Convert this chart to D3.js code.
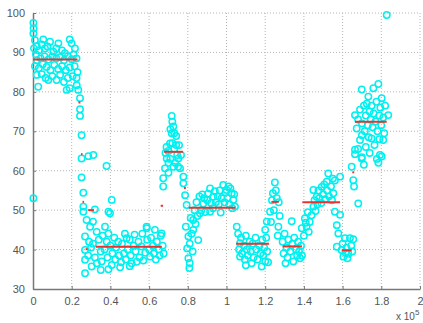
<!DOCTYPE html>
<html>
<head>
<meta charset="utf-8">
<script src="https://cdn.jsdelivr.net/npm/d3@7"></script>
<style>
  body { margin: 0; background: #fff; }
  svg { display: block; }
  text { font-family: "Liberation Sans", Arial, sans-serif; }
</style>
</head>
<body>
<div id="chart"></div>
<script>
// x values are in units of 1e5
const xTicks = [0, 0.2, 0.4, 0.6, 0.8, 1, 1.2, 1.4, 1.6, 1.8, 2];
const yTicks = [30, 40, 50, 60, 70, 80, 90, 100];

// scatter points, grouped by region [x, y]
const ptsA = [[0.002,97.5],[0.003,96.1],[0.002,94.8],[0.01,93.1],[0.005,91],[0.02,91.5],[0.015,89.5],[0.03,90.5],
  [0.053,93.3],[0.045,92],[0.062,91],[0.088,92.7],[0.075,91.5],[0.105,90.2],[0.131,92.3],[0.12,91],[0.15,90.5],
  [0.165,89.8],[0.19,93.3],[0.2,92.3],[0.217,91],[0.21,89.5],[0.225,88.5],[0.02,88],[0.04,88.5],[0.06,89],[0.08,88.2],
  [0.1,89],[0.12,88.5],[0.14,88.8],[0.16,88],[0.18,89],[0.2,88.3],[0.01,86.5],[0.03,86],[0.05,87],[0.07,86.3],
  [0.09,85.5],[0.11,86.8],[0.13,85.8],[0.15,86.5],[0.17,85.5],[0.19,86.2],[0.215,86.5],[0.23,85],[0.019,84.3],
  [0.045,84.5],[0.065,83.5],[0.079,83],[0.1,84],[0.122,83],[0.14,84.3],[0.16,82.5],[0.18,83.5],[0.205,84],
  [0.225,83.5],[0.027,81.3],[0.174,80.5],[0.19,80.9],[0.226,81.7],[0.234,80.5],[0.243,78.4],[0.243,75.6],
  [0.243,73.9],[0.251,69],[0.002,53]];
const ptsA2 = [[0.251,63.1],[0.286,63.7],[0.312,64],[0.251,58.3],[0.26,54.4],[0.26,50.9],[0.26,49.6],[0.32,50.2],
  [0.38,61.2],[0.407,52.6],[0.39,49.6],[0.398,49.2]];
const ptsB = [[0.269,43.3],[0.277,47.5],[0.31,47.1],[0.295,45.8],[0.329,44.5],[0.269,39.9],[0.269,37.4],[0.269,34],
  [0.303,35.7],[0.372,45.8],[0.381,42],[0.588,45.4],[0.484,42.9],[0.536,36.9],[0.407,36.1],[0.29,42],[0.285,38.5],
  [0.31,41.5],[0.32,38],[0.3,40.5],[0.33,36.5],[0.34,42.5],[0.35,39.5],[0.355,37],[0.36,43.5],[0.37,40],[0.385,38],
  [0.39,44],[0.4,41],[0.41,39],[0.42,43],[0.425,37.5],[0.43,40.5],[0.44,42],[0.445,38.5],[0.455,36.8],[0.46,41.5],
  [0.47,39],[0.475,44],[0.48,37.5],[0.49,40],[0.5,42.5],[0.505,38.5],[0.51,36.5],[0.52,41],[0.525,43.8],[0.53,39.5],
  [0.545,42],[0.55,38],[0.56,40.8],[0.565,44],[0.57,37.2],[0.58,39.2],[0.59,42.5],[0.6,40],[0.605,38.2],[0.61,43],
  [0.62,41],[0.625,39],[0.63,45],[0.635,37.5],[0.64,42],[0.65,40],[0.655,38.5],[0.66,43.5],[0.665,44.1],[0.67,41],
  [0.675,39],[0.587,45.8],[0.35,34.8],[0.45,35.5],[0.39,35],[0.5,35.8]];
const ptsC = [[0.717,73.9],[0.72,72.4],[0.725,71.2],[0.717,69.5],[0.708,66.9],[0.691,63.1],[0.682,60.6],[0.751,63.1],
  [0.76,60.6],[0.673,58.1],[0.673,56],[0.777,58.5],[0.777,56.8],[0.786,53.8],[0.794,51.3],[0.7,65],[0.71,63],
  [0.72,67],[0.73,65.5],[0.74,66.5],[0.735,62],[0.745,64],[0.725,61],[0.7,62],[0.69,66],[0.755,66.5],[0.765,64],
  [0.73,69.5],[0.74,68.8],[0.71,70.5],[0.75,61],[0.685,64.5],[0.7,59.5]];
const ptsD = [[0.803,37.8],[0.81,36.6],[0.808,35.3],[0.79,45.8],[0.803,43.3],[0.797,40.3],[0.828,45],[0.854,42.4],
  [0.828,47.5],[0.863,49.2],[0.88,51.7],[0.915,55.5],[0.932,53.4],[0.983,56.4],[1.0,55.1],[1.027,54.3],[1.035,52.6],
  [1.044,50.9],[1.053,45.8],[0.915,49.6],[0.97,49.4],[0.815,48],[0.82,44],[0.835,50],[0.84,46.5],[0.845,52],
  [0.85,48.5],[0.86,53.5],[0.87,50],[0.875,54],[0.885,53],[0.89,49.5],[0.9,52.5],[0.905,54.2],[0.92,51.8],
  [0.93,50.5],[0.94,54.8],[0.945,52],[0.955,53.5],[0.96,51.5],[0.965,55],[0.975,53],[0.99,52],[0.995,54.5],
  [1.005,53],[1.01,56],[1.015,51.5],[1.02,55.5],[1.03,50.5],[1.04,54],[0.81,41.5],[0.825,39.5]];
const ptsE = [[1.07,41.6],[1.07,38.2],[1.13,36.5],[1.182,35.7],[1.2,37],[1.06,44],[1.065,40],[1.075,43],[1.08,39],
  [1.09,41],[1.095,37.5],[1.1,43.5],[1.105,40],[1.11,38.5],[1.12,42],[1.125,39.5],[1.135,41.5],[1.14,38],[1.15,43],
  [1.155,40],[1.16,37.5],[1.17,41],[1.175,39],[1.185,42.5],[1.19,38.5],[1.195,40.5],[1.205,43],[1.21,39.5],
  [1.215,36.8],[1.1,36]];
const ptsF = [[1.2,45],[1.208,47.1],[1.225,49.6],[1.25,57],[1.24,54.3],[1.27,52],[1.268,45.8],[1.235,52.5],
  [1.245,50],[1.255,55],[1.26,53],[1.23,47],[1.275,48.5],[1.265,43.5]];
const ptsG = [[1.337,47.2],[1.38,37.8],[1.29,42],[1.295,39],[1.3,44],[1.31,40.5],[1.315,38],[1.32,42.5],[1.33,39.5],
  [1.34,41.5],[1.345,37],[1.35,43],[1.36,40],[1.365,38.5],[1.37,42],[1.375,39.5],[1.385,41],[1.39,38.5],[1.305,36.5]];
const ptsH = [[1.389,45.4],[1.414,45.8],[1.405,47.9],[1.44,48.7],[1.449,50.9],[1.466,53.4],[1.449,55.1],[1.492,55.9],
  [1.518,57.2],[1.526,59.3],[1.56,57.5],[1.587,58.5],[1.552,54.3],[1.56,49.6],[1.587,48.8],[1.57,46.2],[1.578,44.1],
  [1.57,40.7],[1.42,49.5],[1.43,47],[1.455,52.5],[1.46,49.8],[1.47,51.5],[1.475,55],[1.48,53],[1.49,51.8],[1.5,54],
  [1.505,56.5],[1.51,52.8],[1.52,55],[1.53,53.5],[1.54,56],[1.545,52.5],[1.55,58],[1.4,43.5],[1.41,46.8],[1.425,44.5]];
const ptsI = [[1.612,42.9],[1.638,42.9],[1.655,42.6],[1.595,39.9],[1.604,38.2],[1.63,38.9],[1.6,41.5],[1.62,40.5],
  [1.625,37.8],[1.645,41],[1.615,39.2],[1.65,39.5]];
const ptsJ = [[1.647,61],[1.655,57.6],[1.659,56],[1.681,51.7],[1.664,64.2],[1.699,63.4],[1.785,62],[1.802,63.6],
  [1.699,80.6],[1.759,80.9],[1.785,82],[1.733,78.8],[1.802,78.4],[1.664,74.1],[1.836,74.1],[1.673,70.7],[1.69,67.8],
  [1.664,65.3],[1.699,63.1],[1.75,68.2],[1.81,67.8],[1.793,64],[1.777,63],[1.828,99.5],[1.68,73],[1.69,75.5],
  [1.7,72],[1.71,76.5],[1.715,70],[1.72,74],[1.725,77],[1.73,71.5],[1.74,75],[1.745,73],[1.75,76.5],[1.755,71],
  [1.76,74.5],[1.77,72.5],[1.775,77.5],[1.78,70],[1.79,74],[1.795,76],[1.8,71.5],[1.81,73.5],[1.815,69.5],
  [1.82,76.5],[1.7,69],[1.72,66],[1.735,68.5],[1.765,66.5],[1.79,68],[1.68,65.5],[1.71,61.5],[1.74,64.5]];

// segment means [x0, x1, y]
const segments = [[0,0.23,88.2],[0.235,0.245,77.3],[0.248,0.256,64.2],[0.256,0.264,52.1],[0.285,0.315,50],
  [0.272,0.282,40.1],[0.325,0.665,40.7],[0.66,0.672,51.1],[0.677,0.775,64.8],[0.78,0.79,55.6],[0.805,1.045,50.6],
  [1.05,1.22,41.5],[1.232,1.27,52.1],[1.29,1.39,40.8],[1.392,1.587,52],[1.595,1.647,39.8],[1.65,1.66,59.6],
  [1.664,1.828,72.4]];

const points = [].concat(ptsA, ptsA2, ptsB, ptsC, ptsD, ptsE, ptsF, ptsG, ptsH, ptsI, ptsJ);

const W = 423, H = 323;
const margin = {top: 13, right: 3, bottom: 34, left: 33};
const width = W - margin.left - margin.right,
      height = H - margin.top - margin.bottom;

const svg = d3.select("#chart").append("svg")
    .attr("width", W).attr("height", H);
const g = svg.append("g")
    .attr("transform", "translate(" + margin.left + "," + margin.top + ")");

const x = d3.scaleLinear().domain([0, 2]).range([0, width]);
const y = d3.scaleLinear().domain([30, 100]).range([height, 0]);

// dotted grid
g.append("g").selectAll("line").data(xTicks.slice(1)).enter().append("line")
    .attr("x1", d => x(d)).attr("x2", d => x(d))
    .attr("y1", 0).attr("y2", height)
    .attr("stroke", "#b4b4b4").attr("stroke-dasharray", "1,2");
g.append("g").selectAll("line").data(yTicks.slice(1)).enter().append("line")
    .attr("x1", 0).attr("x2", width)
    .attr("y1", d => y(d)).attr("y2", d => y(d))
    .attr("stroke", "#b4b4b4").attr("stroke-dasharray", "1,2");

// axes
const xAxis = g.append("g")
    .attr("transform", "translate(0," + height + ")")
    .call(d3.axisBottom(x).tickValues(xTicks).tickFormat(d3.format("")).tickSize(-3).tickPadding(8).tickSizeOuter(0));
const yAxis = g.append("g")
    .call(d3.axisLeft(y).tickValues(yTicks).tickSize(-3).tickPadding(8).tickSizeOuter(0));
[xAxis, yAxis].forEach(a => {
    a.select(".domain").attr("stroke", "#777").attr("stroke-width", 1.5);
    a.selectAll(".tick line").attr("stroke", "#777");
    a.selectAll(".tick text").attr("fill", "#555").style("font-size", "11px")
        .style("font-family", "'Liberation Sans', Arial, sans-serif");
});

// scatter
g.append("g").selectAll("circle").data(points).enter().append("circle")
    .attr("cx", d => x(d[0]))
    .attr("cy", d => y(d[1]))
    .attr("r", 3.2)
    .attr("fill", "none")
    .attr("stroke", "#00f0f0")
    .attr("stroke-width", 1.5);

// segment means
g.append("g").selectAll("line").data(segments).enter().append("line")
    .attr("x1", d => x(d[0])).attr("x2", d => x(d[1]))
    .attr("y1", d => y(d[2])).attr("y2", d => y(d[2]))
    .attr("stroke", "#e8332e")
    .attr("stroke-width", 2);

// exponent label
const ex = svg.append("text")
    .attr("x", 396).attr("y", 320)
    .attr("fill", "#555").style("font-size", "10px");
ex.append("tspan").text("x 10");
ex.append("tspan").attr("dy", -5).style("font-size", "8px").text("5");
</script>
</body>
</html>
